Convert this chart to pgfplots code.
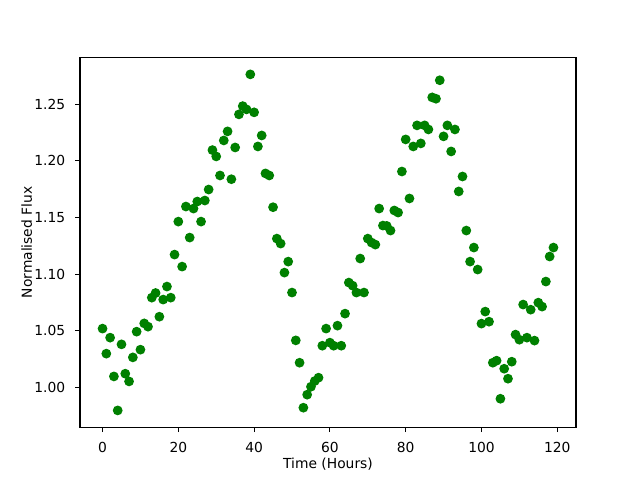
\documentclass[border=0pt]{standalone}
\usepackage{pgfplots}
\pgfplotsset{compat=1.18}
\usepackage{fontspec}
\setmainfont{DejaVu Sans}
\definecolor{mplgreen}{RGB}{0,128,0}
\begin{document}
\fontsize{10}{12}\selectfont
\begin{tikzpicture}
\useasboundingbox (-0.8in,-0.528in) rectangle (5.6in,4.272in);
\begin{axis}[
  scale only axis, width=4.96in, height=3.696in,
  xmin=-5.95, xmax=124.95, ymin=0.9649, ymax=1.2910,
  xtick={0,20,40,60,80,100,120},
  ytick={1.00,1.05,1.10,1.15,1.20,1.25},
  yticklabel style={/pgf/number format/fixed, /pgf/number format/fixed zerofill, /pgf/number format/precision=2},
  /pgf/number format/assume math mode=true,
  tick align=outside, major tick length=3.5pt,
  xtick pos=bottom, ytick pos=left,
  every tick/.style={black, line width=0.8pt},
  axis line style={line width=0.8pt},
  tick label style={font=\fontsize{10}{12}\selectfont, inner sep=0pt},
  xticklabel style={anchor=north, yshift=-7pt},
  yticklabel style={anchor=east, xshift=-7pt},
  label style={font=\fontsize{10}{12}\selectfont},
  xlabel={Time (Hours)},
  ylabel={Normalised Flux},
  xlabel style={at={(axis description cs:0.5,-0.1108)}, anchor=base},
  ylabel style={at={(axis description cs:-0.0968,0.5)}, anchor=base},
]
\addplot[only marks, mark=*, mark size=3pt, color=mplgreen, mark options={line width=1pt, fill=mplgreen, draw=mplgreen}] table {
x y
0 1.0519
1 1.0298
2 1.0439
3 1.0097
4 0.9797
5 1.0380
6 1.0121
7 1.0053
8 1.0265
9 1.0492
10 1.0333
11 1.0565
12 1.0536
13 1.0792
14 1.0833
15 1.0624
16 1.0775
17 1.0890
18 1.0792
19 1.1172
20 1.1463
21 1.1066
22 1.1596
23 1.1322
24 1.1578
25 1.1640
26 1.1463
27 1.1649
28 1.1746
29 1.2094
30 1.2038
31 1.1870
32 1.2179
33 1.2259
34 1.1837
35 1.2117
36 1.2409
37 1.2482
38 1.2453
39 1.2762
40 1.2427
41 1.2126
42 1.2223
43 1.1888
44 1.1870
45 1.1590
46 1.1313
47 1.1269
48 1.1013
49 1.1110
50 1.0837
51 1.0415
52 1.0218
53 0.9821
54 0.9936
55 1.0006
56 1.0056
57 1.0086
58 1.0368
59 1.0519
60 1.0395
61 1.0368
62 1.0545
63 1.0368
64 1.0651
65 1.0925
66 1.0898
67 1.0837
68 1.1137
69 1.0837
70 1.1313
71 1.1278
72 1.1260
73 1.1578
74 1.1428
75 1.1425
76 1.1384
77 1.1561
78 1.1543
79 1.1905
80 1.2188
81 1.1667
82 1.2126
83 1.2312
84 1.2153
85 1.2312
86 1.2276
87 1.2559
88 1.2547
89 1.2710
90 1.2215
91 1.2312
92 1.2082
93 1.2276
94 1.1729
95 1.1861
96 1.1384
97 1.1110
98 1.1234
99 1.1040
100 1.0563
101 1.0669
102 1.0580
103 1.0218
104 1.0236
105 0.9900
106 1.0165
107 1.0077
108 1.0227
109 1.0466
110 1.0421
111 1.0731
112 1.0439
113 1.0686
114 1.0413
115 1.0748
116 1.0713
117 1.0934
118 1.1155
119 1.1234
};
\end{axis}
\end{tikzpicture}
\end{document}
